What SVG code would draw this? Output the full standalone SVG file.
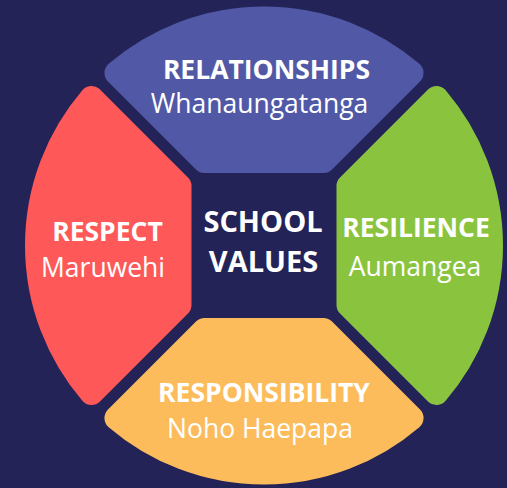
<svg xmlns="http://www.w3.org/2000/svg" width="507" height="488" viewBox="0 0 507 488">
  <style>
    .seg { stroke-width: 24; stroke-linejoin: round; }
    .t { font-family: "Open Sans", "Noto Sans", sans-serif; fill: #ffffff; text-anchor: middle; }
    .b { font-weight: bold; font-size: 26.5px; }
    .r { font-weight: normal; font-size: 26.5px; }
    .c { font-weight: bold; font-size: 29px; }
  </style>
  <defs>
    <path id="segshape" d="M 204.47 161 L 116.46 72.99 A 227 227 0 0 1 411.54 72.99 L 323.53 161 Z"/>
  </defs>
  <rect x="0" y="0" width="507" height="488" fill="#232358"/>
  <g id="relationships">
    <use href="#segshape" class="seg" fill="#5159A6" stroke="#5159A6"/>
    <text class="t b" x="266.5" y="79">RELATIONSHIPS</text>
    <text class="t r" x="259.5" y="113">Whanaungatanga</text>
  </g>
  <g id="resilience">
    <use href="#segshape" class="seg" fill="#8AC43F" stroke="#8AC43F" transform="rotate(90 264 245.5)"/>
    <text class="t b" x="416" y="237">RESILIENCE</text>
    <text class="t r" x="415" y="276">Aumangea</text>
  </g>
  <g id="responsibility">
    <use href="#segshape" class="seg" fill="#FDBC5B" stroke="#FDBC5B" transform="rotate(180 264 245.5)"/>
    <text class="t b" x="264" y="402">RESPONSIBILITY</text>
    <text class="t r" x="260" y="438">Noho Haepapa</text>
  </g>
  <g id="respect">
    <use href="#segshape" class="seg" fill="#FE5858" stroke="#FE5858" transform="rotate(270 264 245.5)"/>
    <text class="t b" x="107.5" y="241">RESPECT</text>
    <text class="t r" x="103" y="277">Maruwehi</text>
  </g>
  <g id="center">
    <text class="t c" x="263" y="232">SCHOOL</text>
    <text class="t c" x="263.5" y="272">VALUES</text>
  </g>
  <g id="connectors"/>
</svg>
